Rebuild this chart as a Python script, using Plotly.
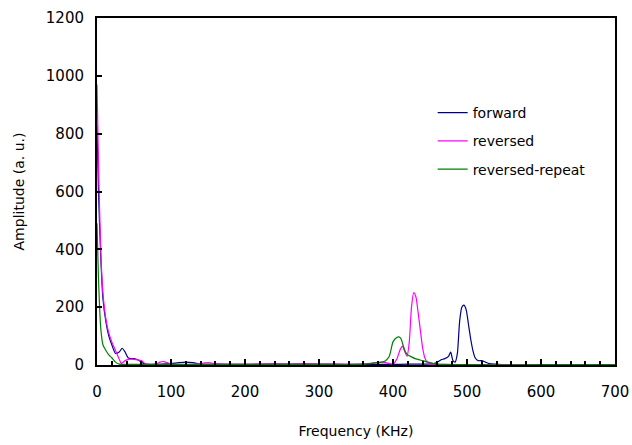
import plotly.graph_objects as go

# forward (blue)
fwd_f = [0, 2, 5, 8, 12, 16, 20, 25, 30, 34, 38, 42, 46, 50, 55, 60, 65, 80, 100, 110, 120, 130, 140, 160,
         200, 250, 300, 350, 400, 420, 440, 455, 460, 465, 470, 475, 478, 481, 484, 487, 490, 493, 496, 499,
         502, 505, 508, 511, 515, 520, 525, 530, 540, 550, 600, 700]
fwd_a = [830, 600, 380, 230, 150, 100, 70, 40, 45, 58, 45, 25, 22, 22, 18, 10, 3, 2, 5, 8, 10, 8, 3, 2,
         2, 3, 3, 2, 2, 3, 3, 5, 10, 18, 22, 30, 45, 15, 10, 40, 150, 200, 207, 190,
         140, 90, 50, 25, 15, 15, 10, 5, 3, 1, 1, 1]

# reversed (magenta)
rev_f = [0, 2, 5, 8, 12, 16, 20, 25, 30, 33, 38, 45, 55, 60, 65, 70, 80, 85, 90, 95, 100, 130, 150, 160,
         170, 200, 220, 240, 260, 280, 300, 320, 340, 360, 375, 385, 395, 400, 405, 410, 413, 416, 419, 422,
         425, 428, 431, 434, 437, 440, 443, 446, 450, 460, 500, 600, 700]
rev_a = [970, 700, 400, 250, 160, 110, 80, 50, 20, 5, 15, 20, 18, 15, 5, 2, 3, 10, 12, 8, 3, 2, 8, 5,
         3, 2, 4, 5, 2, 6, 2, 4, 2, 3, 8, 10, 5, 3, 20, 55, 65, 45, 30, 80,
         200, 250, 235, 180, 120, 60, 25, 10, 3, 2, 1, 1, 1]

# reversed-repeat (green)
rep_f = [0, 2, 5, 8, 12, 16, 20, 25, 30, 40, 100, 200, 300, 350, 370, 380, 385, 390, 395, 400, 405, 408,
         411, 414, 417, 420, 425, 430, 440, 450, 455, 460, 470, 500, 600, 700]
rep_a = [490, 300, 130, 70, 50, 35, 25, 10, 3, 2, 2, 2, 2, 2, 5, 8, 10, 15, 30, 80, 95, 97,
         90, 65, 45, 35, 28, 22, 15, 8, 5, 3, 2, 1, 1, 1]

series = [
    ("forward", fwd_f, fwd_a, "#000080"),
    ("reversed", rev_f, rev_a, "#FF00FF"),
    ("reversed-repeat", rep_f, rep_a, "#008000"),
]

fig = go.Figure()
for name, f, a, c in series:
    fig.add_trace(go.Scatter(x=f, y=a, mode="lines", name=name, legendgroup=name,
                             line=dict(color=c, width=1.2, shape="spline", smoothing=0.6)))

font = "DejaVu Sans, Verdana, sans-serif"
axis_common = dict(showline=True, linecolor="black", linewidth=2, mirror=True, showgrid=False,
                   zeroline=False, ticks="inside", tickcolor="black", tickwidth=2, automargin=False,
                   tickfont=dict(family=font, size=15, color="black"))
fig.update_layout(
    width=632, height=445,
    margin=dict(l=97, r=17, t=18, b=80),
    paper_bgcolor="white", plot_bgcolor="white",
    font=dict(family=font, size=15, color="black"),
    showlegend=True,
    legend=dict(x=0.648, y=0.772, xanchor="left", yanchor="top", bgcolor="rgba(0,0,0,0)",
                font=dict(family=font, size=14), itemwidth=30, tracegroupgap=7,
                traceorder="grouped"),
    xaxis=dict(range=[0, 700], dtick=100, ticklen=6, ticklabelstandoff=12,
               minor=dict(dtick=20, ticks="inside", ticklen=4, tickcolor="black", tickwidth=1.5),
               title=dict(text="Frequency (KHz)", font=dict(family=font, size=14), standoff=26),
               **axis_common),
    yaxis=dict(range=[0, 1200], dtick=200, ticklen=5, ticklabelstandoff=8,
               title=dict(text="Amplitude (a. u.)", font=dict(family=font, size=14), standoff=18),
               **axis_common),
)
fig.write_html("out.html")
